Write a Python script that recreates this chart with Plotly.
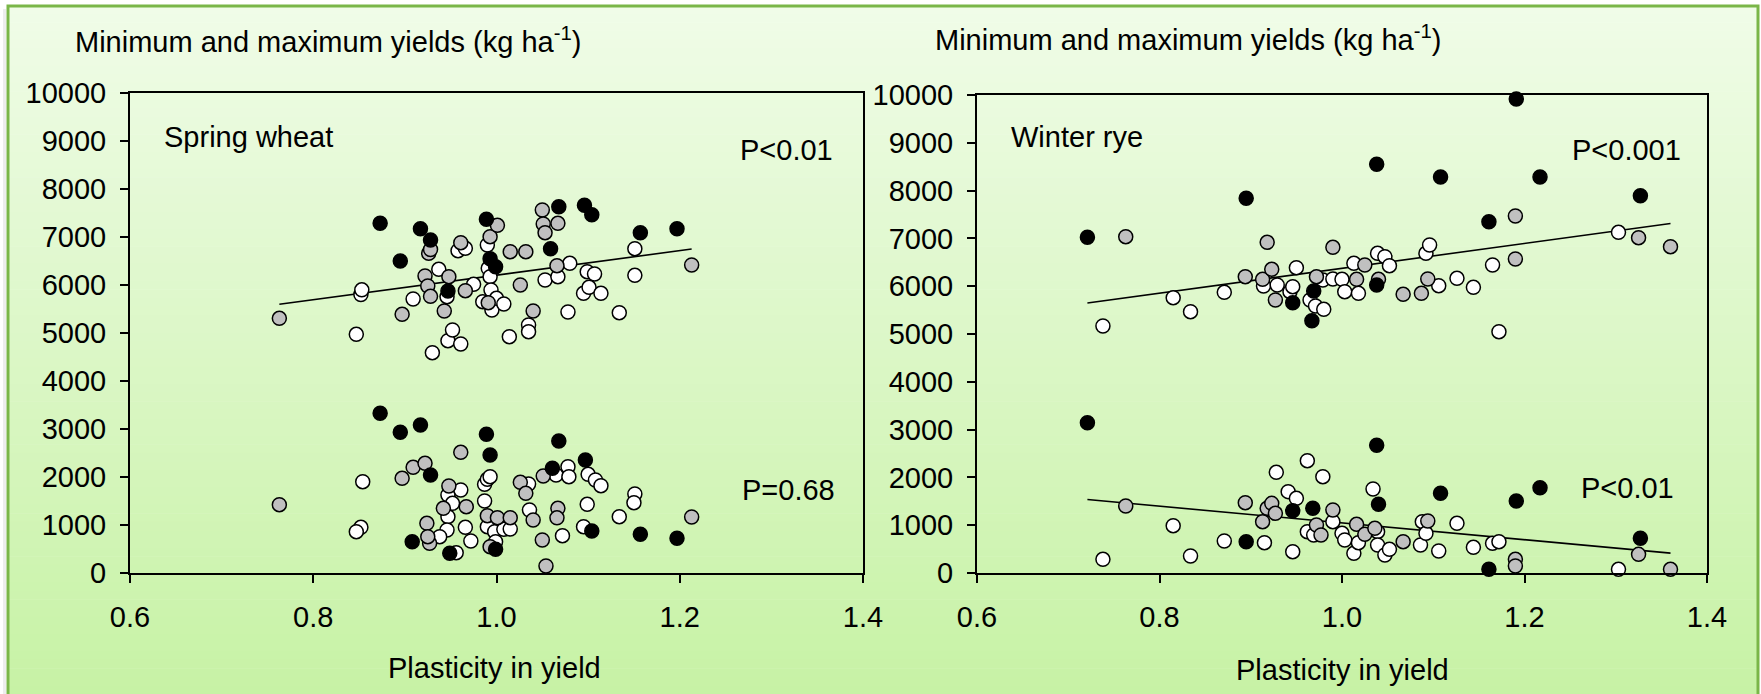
import numpy as np
import plotly.graph_objects as go

# ---------------- data ----------------
# Spring wheat: maximum yields
wheat_max_black_x = [0.873, 0.917, 0.928, 0.895, 0.989, 0.993, 0.999, 0.947, 1.068, 1.096, 1.104, 1.059, 1.157, 1.197]
wheat_max_black_y = [7285, 7174, 6938, 6500, 7368, 6549, 6382, 5875, 7632, 7660, 7465, 6757, 7090, 7174]
wheat_max_gray_x = [0.763, 0.897, 0.926, 0.928, 0.922, 0.925, 0.928, 0.943, 0.948, 0.961, 0.966, 0.991, 0.993, 1.001,
                    1.015, 1.032, 1.026, 1.040, 1.050, 1.051, 1.053, 1.067, 1.066, 1.213]
wheat_max_gray_y = [5306, 5389, 6660, 6740, 6188, 5979, 5764, 5458, 6174, 6882, 5882, 5632, 7007, 7243,
                    6694, 6694, 6000, 5458, 7562, 7271, 7090, 7285, 6403, 6417]
wheat_max_white_x = [0.847, 0.852, 0.853, 0.909, 0.937, 0.930, 0.947, 0.961, 0.952, 1.014, 1.035, 1.035, 0.946, 0.958,
                     0.966, 0.975, 0.991, 0.993, 0.990, 0.994, 0.995, 0.985, 1.000, 1.008, 1.053, 1.067, 1.080, 1.099,
                     1.107, 1.095, 1.101, 1.114, 1.078, 1.134, 1.151, 1.151]
wheat_max_white_y = [4972, 5800, 5900, 5708, 6326, 4590, 4840, 4770, 5063, 4924, 5167, 5028, 5757, 6715,
                     6764, 6014, 6347, 6174, 6833, 5896, 5479, 5653, 5722, 5604, 6104, 6174, 6451, 6278,
                     6229, 5826, 5951, 5826, 5438, 5424, 6757, 6201]
# Spring wheat: minimum yields
wheat_min_black_x = [0.873, 0.895, 0.917, 0.928, 0.908, 0.949, 0.989, 0.993, 0.999, 1.068, 1.061, 1.097, 1.104, 1.157, 1.197]
wheat_min_black_y = [3326, 2931, 3083, 2042, 653, 410, 2889, 2458, 493, 2750, 2181, 2354, 875, 806, 722]
wheat_min_gray_x = [0.763, 0.897, 0.909, 0.922, 0.948, 0.961, 0.942, 0.924, 0.927, 0.925, 0.967, 0.990, 1.001, 1.015,
                    1.026, 1.032, 1.040, 1.050, 1.051, 1.067, 1.054, 1.213, 0.993, 1.066]
wheat_min_gray_y = [1424, 1972, 2201, 2285, 1813, 2514, 1347, 1035, 618, 757, 1382, 1194, 1153, 1153,
                    1889, 1660, 1104, 688, 2021, 1347, 146, 1167, 549, 1150]
wheat_min_white_x = [0.854, 0.852, 0.847, 0.947, 0.952, 0.947, 0.946, 0.938, 0.961, 0.966, 0.972, 0.956, 0.987, 0.990,
                     0.993, 0.987, 0.990, 0.998, 0.999, 1.008, 1.015, 1.035, 1.036, 1.065, 1.078, 1.079, 1.072, 1.100,
                     1.108, 1.114, 1.099, 1.095, 1.134, 1.151, 1.150]
wheat_min_white_y = [1903, 951, 861, 1625, 1451, 1174, 896, 757, 1729, 951, 667, 424, 1847, 1951,
                     2007, 1500, 965, 861, 653, 910, 917, 1854, 1313, 2042, 2215, 2007, 778, 2056,
                     1937, 1819, 1431, 965, 1174, 1646, 1465]

# Winter rye: maximum yields
rye_max_black_x = [0.721, 0.895, 1.038, 1.108, 1.191, 1.217, 1.327, 1.161, 0.946, 0.967, 0.969, 1.038]
rye_max_black_y = [7022, 7838, 8550, 8285, 9916, 8285, 7894, 7350, 5655, 5279, 5900, 6025]
rye_max_gray_x = [0.763, 0.894, 0.913, 0.918, 0.923, 0.927, 0.972, 0.990, 1.016, 1.025, 1.040, 1.067, 1.087, 1.094,
                  1.190, 1.190, 1.325, 1.360]
rye_max_gray_y = [7036, 6199, 6144, 6918, 6353, 5711, 6199, 6813, 6144, 6444, 6144, 5830, 5851, 6151,
                  7469, 6569, 7015, 6827]
rye_max_white_x = [0.738, 0.815, 0.834, 0.871, 0.914, 0.929, 0.943, 0.946, 0.950, 0.965, 0.971, 0.980, 0.979, 0.990,
                   1.000, 1.003, 1.013, 1.018, 1.039, 1.047, 1.052, 1.092, 1.096, 1.106, 1.126, 1.144, 1.165, 1.172,
                   1.303]
rye_max_white_y = [5167, 5760, 5467, 5872, 6004, 6025, 5886, 5990, 6388, 5711, 5586, 5516, 6130, 6151,
                   6144, 5886, 6478, 5851, 6688, 6618, 6430, 6688, 6862, 6011, 6165, 5976, 6444, 5049,
                   7127]
# Winter rye: minimum yields
rye_min_black_x = [0.721, 1.038, 1.040, 1.108, 1.217, 1.191, 1.327, 1.161, 0.895, 0.946, 0.968]
rye_min_black_y = [3145, 2671, 1437, 1667, 1785, 1506, 725, 77, 655, 1304, 1353]
rye_min_gray_x = [0.763, 0.894, 0.913, 0.918, 0.923, 0.927, 0.972, 0.977, 0.990, 1.016, 1.025, 1.036, 1.067, 1.094,
                  1.190, 1.190, 1.325, 1.360]
rye_min_gray_y = [1402, 1471, 1074, 1353, 1457, 1248, 1004, 795, 1318, 1018, 809, 934, 655, 1088,
                  286, 146, 390, 77]
rye_min_white_x = [0.738, 0.815, 0.834, 0.871, 0.915, 0.928, 0.941, 0.950, 0.946, 0.962, 0.979, 0.962, 0.969, 0.990,
                   1.000, 1.003, 1.013, 1.018, 1.034, 1.039, 1.039, 1.047, 1.052, 1.086, 1.088, 1.092, 1.106, 1.126,
                   1.144, 1.165, 1.172, 1.303]
rye_min_white_y = [286, 990, 356, 669, 635, 2106, 1702, 1562, 446, 2350, 2015, 865, 795, 1074,
                   830, 690, 411, 635, 1757, 865, 586, 377, 495, 586, 1074, 830, 460, 1039,
                   537, 621, 655, 77]

x_ticks = [0.6, 0.8, 1.0, 1.2, 1.4]
y_ticks = list(range(0, 10001, 1000))

# ---------------- figure ----------------
W, H = 1761, 694
FONT = "Liberation Sans, Arial, sans-serif"


def px(x):
    return x / W


def py(y):
    return 1 - y / H


fig = go.Figure()

colors = {"white": "#ffffff", "gray": "#c0c0c0", "black": "#000000"}


def add_points(xs, ys, col, xa, ya):
    fig.add_trace(go.Scatter(
        x=xs, y=ys, mode="markers", xaxis=xa, yaxis=ya, cliponaxis=False,
        marker=dict(size=14, color=colors[col], line=dict(color="black", width=1.5)),
        showlegend=False, hoverinfo="x+y"))


def add_trend(xs, ys, xa, ya):
    xs = np.asarray(xs, float)
    ys = np.asarray(ys, float)
    b, a = np.polyfit(xs, ys, 1)
    xl = np.array([xs.min(), xs.max()])
    fig.add_trace(go.Scatter(x=xl, y=a + b * xl, mode="lines", xaxis=xa, yaxis=ya,
                             line=dict(color="black", width=1.6), showlegend=False, hoverinfo="skip"))


# trend lines (regressions of the plotted values)
add_trend(wheat_max_black_x + wheat_max_gray_x + wheat_max_white_x,
          wheat_max_black_y + wheat_max_gray_y + wheat_max_white_y, "x", "y")
add_trend(rye_max_black_x + rye_max_gray_x + rye_max_white_x,
          rye_max_black_y + rye_max_gray_y + rye_max_white_y, "x2", "y2")
add_trend(rye_min_black_x + rye_min_gray_x + rye_min_white_x,
          rye_min_black_y + rye_min_gray_y + rye_min_white_y, "x2", "y2")

for xs, ys, c in [(wheat_max_white_x, wheat_max_white_y, "white"), (wheat_min_white_x, wheat_min_white_y, "white"),
                  (wheat_max_gray_x, wheat_max_gray_y, "gray"), (wheat_min_gray_x, wheat_min_gray_y, "gray"),
                  (wheat_max_black_x, wheat_max_black_y, "black"), (wheat_min_black_x, wheat_min_black_y, "black")]:
    add_points(xs, ys, c, "x", "y")
for xs, ys, c in [(rye_max_white_x, rye_max_white_y, "white"), (rye_min_white_x, rye_min_white_y, "white"),
                  (rye_max_gray_x, rye_max_gray_y, "gray"), (rye_min_gray_x, rye_min_gray_y, "gray"),
                  (rye_max_black_x, rye_max_black_y, "black"), (rye_min_black_x, rye_min_black_y, "black")]:
    add_points(xs, ys, c, "x2", "y2")

# background gradient bands and green frame
top = (240, 252, 232)
bot = (199, 242, 165)
n = 80
Y0, Y1 = 5, 694
for i in range(n):
    t = (i + 0.5) / n
    c = tuple(int(round(top[k] + (bot[k] - top[k]) * t)) for k in range(3))
    ya = Y0 + (Y1 - Y0) * i / n
    yb = Y0 + (Y1 - Y0) * (i + 1) / n + 0.6
    fig.add_shape(type="rect", xref="paper", yref="paper", x0=px(7), x1=px(1759),
                  y0=py(yb), y1=py(ya), fillcolor="rgb(%d,%d,%d)" % c, line_width=0, layer="below")
fig.add_shape(type="line", xref="paper", yref="paper", x0=px(4.5), x1=px(4.5), y0=py(700), y1=py(9),
              line=dict(color="rgba(0,0,0,0.07)", width=3), layer="below")
fig.add_shape(type="rect", xref="paper", yref="paper", x0=px(8), x1=px(1758), y0=py(720), y1=py(6),
              line=dict(color="#7ab648", width=3), fillcolor="rgba(0,0,0,0)", layer="below")

xax = dict(range=[0.6, 1.4], tickvals=x_ticks, ticktext=["%.1f" % v for v in x_ticks],
           showline=True, linecolor="black", linewidth=2, mirror=True,
           ticks="outside", ticklen=8, tickwidth=2, tickcolor="black",
           showgrid=False, zeroline=False, ticklabelstandoff=9,
           tickfont=dict(family=FONT, size=29, color="black"))
yax = dict(range=[0, 10000], tickvals=y_ticks, ticktext=[str(v) for v in y_ticks],
           showline=True, linecolor="black", linewidth=2, mirror=True,
           ticks="outside", ticklen=8, tickwidth=2, tickcolor="black",
           showgrid=False, zeroline=False, ticklabelstandoff=8,
           tickfont=dict(family=FONT, size=29, color="black"))

fig.update_layout(
    template="none", width=W, height=H, margin=dict(l=0, r=0, t=0, b=0),
    paper_bgcolor="white", plot_bgcolor="rgba(0,0,0,0)", showlegend=False,
    xaxis=dict(xax, domain=[px(130), px(863)], anchor="y"),
    yaxis=dict(yax, domain=[py(573), py(93)], anchor="x"),
    xaxis2=dict(xax, domain=[px(977), px(1707)], anchor="y2"),
    yaxis2=dict(yax, domain=[py(573), py(95)], anchor="x2"),
)


def ann(text, x, y, xanchor="left", size=29):
    fig.add_annotation(text=text, x=px(x), y=py(y), xref="paper", yref="paper",
                       xanchor=xanchor, yanchor="middle", showarrow=False,
                       font=dict(family=FONT, size=size, color="black"))


title = "Minimum and maximum yields (kg ha<sup>-1</sup>)"
ann(title, 73, 40)
ann(title, 933, 38)
ann("Spring wheat", 162, 137)
ann("P<0.01", 835, 150, "right")
ann("P=0.68", 837, 490, "right")
ann("Winter rye", 1009, 137)
ann("P<0.001", 1683, 150, "right")
ann("P<0.01", 1676, 488, "right")
ann("Plasticity in yield", 494, 668, "center")
ann("Plasticity in yield", 1342, 670, "center")

fig.write_html("out.html", config={"displayModeBar": False},
               post_script="document.body.style.margin='0';")
